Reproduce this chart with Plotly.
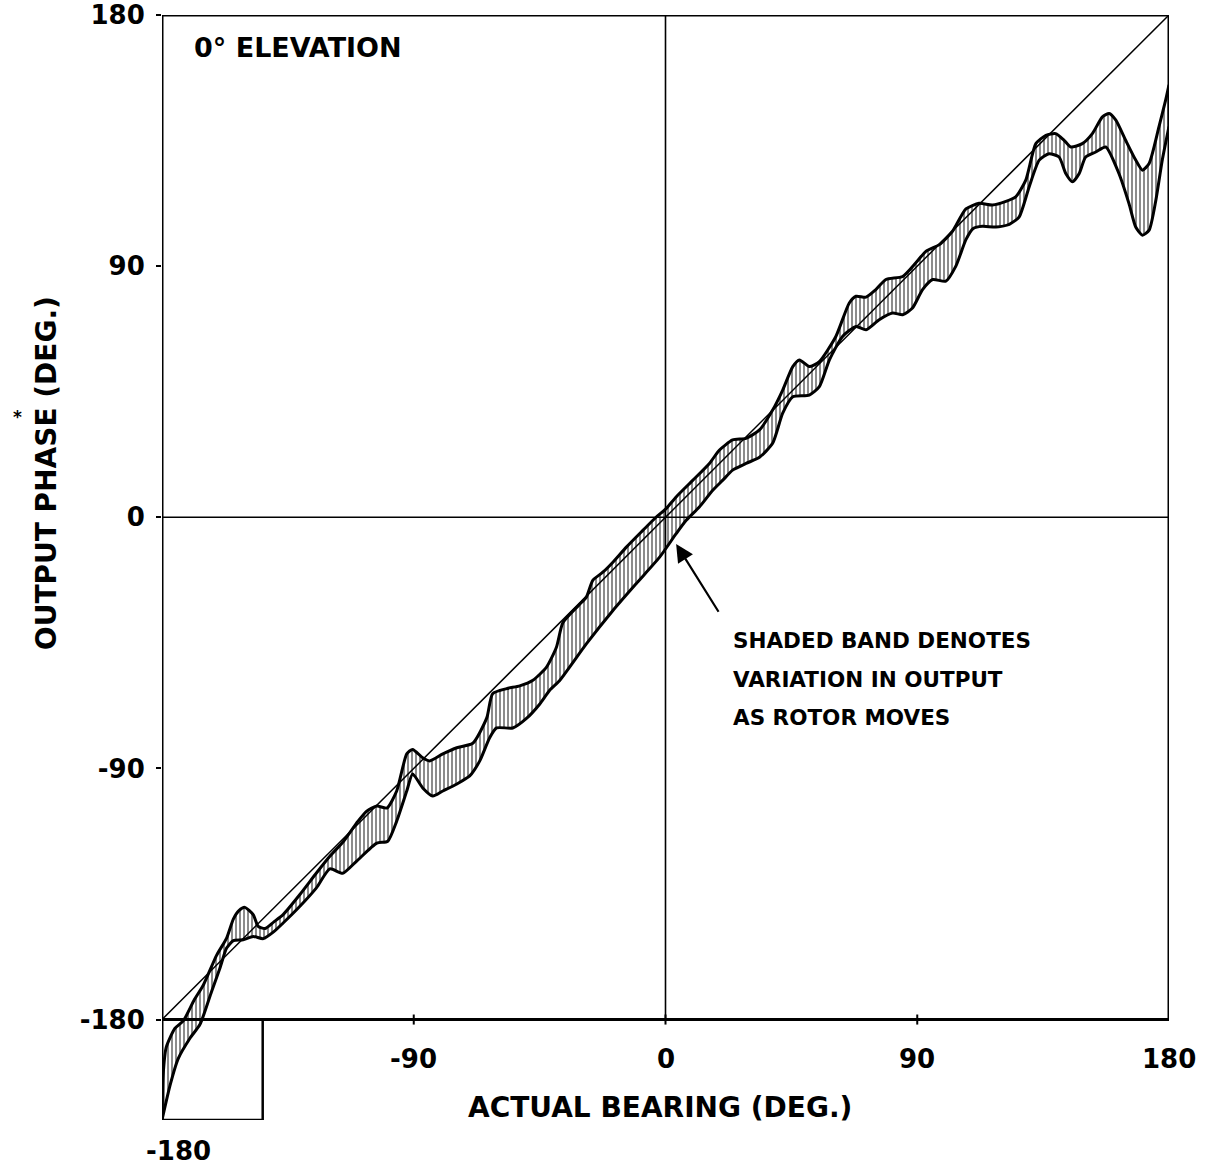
import plotly.graph_objects as go

# ---------------- data ----------------
upper_x = [-180, -179.6, -178.5, -175.4, -172.4, -168.5, -165.2, -160.5, -156.9, -154.5,
           -152.5, -150.4, -147.4, -145.6, -143.2, -140, -136.7, -130.7, -124.8, -120,
           -115, -110, -106.8, -103.2, -99.6, -96.1, -92.5, -90.4, -86.8, -84.3,
           -79.6, -74.6, -68.9, -63.9, -61.8, -56.8, -52.1, -47.4, -42.6, -39,
           -36.7, -31, -28.3, -26, -22.4, -18.8, -14, -8.1, -3.3, 0.2,
           3.8, 9.8, 15.7, 19.3, 24, 28.8, 33.6, 38.3, 41.9, 45.5,
           47.9, 51.4, 55, 60.9, 65.7, 68.1, 71.7, 75.2, 78.8, 84.8,
           89.5, 93.1, 97.9, 102.6, 107.4, 112.1, 116.9, 121.7, 125.2, 128.8,
           132.4, 136, 139.5, 142.5, 144.9, 149, 152.6, 156.2, 158.6, 161,
           164.5, 168.1, 170.5, 172.9, 176.4, 178.8, 180]
upper_y = [-216, -200, -190, -183.2, -180.5, -173, -167.6, -157, -150.8, -144,
           -141, -139.8, -142.4, -146.6, -147.4, -145, -142.4, -135.2, -127.5, -121.5,
           -116, -109, -105.3, -103.5, -104.2, -98.1, -84.8, -83.2, -86.2, -87.3,
           -84.8, -82.6, -81, -71.9, -63.2, -61.4, -60.4, -58.4, -53.8, -46.6,
           -37.8, -31.5, -28.6, -22.6, -19.7, -16.1, -10.7, -4.7, 0.1, 3.1,
           7.3, 13.3, 19.3, 24.1, 27.7, 28.3, 31.3, 38.4, 45.6, 54,
           56.4, 54, 55.8, 64.8, 76.8, 79.2, 78.9, 81.6, 85.2, 86.3,
           91.2, 95.3, 97.7, 102.5, 110.5, 112.5, 111.9, 113.2, 114.8, 120.8,
           133.9, 136.9, 137.5, 135.1, 132.7, 133.9, 137.5, 143.5, 144.7, 142.3,
           135.1, 128, 124.4, 126.8, 139.9, 149.5, 155]

lower_x = [-180, -177.1, -174.2, -170, -166.4, -162.3, -159.3, -156.9, -154.5, -151,
           -147.4, -143.8, -140, -136.7, -130.7, -124.8, -120, -115.4, -110.4, -103.2,
           -99.3, -96.1, -92.5, -90.4, -86.8, -83.2, -79.6, -74.6, -70, -66.4,
           -62.9, -60.4, -54.6, -49.6, -45, -41.4, -37.9, -28.3, -18.8, -10.5,
           -2.1, 3.8, 7.4, 12.1, 16.9, 20.5, 24, 28.8, 33.6, 38.3,
           41.9, 45.5, 51.4, 55, 58.6, 63.3, 68.1, 71.7, 76.4, 81.2,
           84.8, 88.3, 91.9, 95.5, 100.2, 103.8, 107.4, 110, 113.3, 118.1,
           122.9, 126.4, 130, 133.6, 137.1, 140.7, 143.1, 145.5, 147.9, 150.2,
           153.8, 157.4, 162.1, 165.7, 168.1, 170.5, 172.9, 175.3, 177.6, 180]
lower_y = [-216, -203.5, -194, -186.7, -181.7, -170, -161.6, -154.4, -151.7, -151.4,
           -150.2, -151, -148.5, -145.4, -139.4, -132.8, -126, -127.6, -123.2, -116.8,
           -116.1, -108.9, -98.1, -92, -97, -99.9, -98.1, -95.6, -92.7, -87.3,
           -79.1, -75.5, -75.5, -72, -67, -62, -58.6, -45.4, -33.4, -23.8,
           -14.3, -5.9, -1.1, 3.7, 9.7, 13.3, 16.9, 19.3, 21.5, 26.5,
           37.3, 43.2, 43.8, 46.8, 56.4, 64.8, 68.4, 67.2, 70.8, 73.2,
           72.6, 75, 81.6, 85.2, 84.6, 90, 99.5, 103.5, 104.3, 104,
           105, 107.6, 118.4, 128, 130.3, 129.1, 123.2, 120.2, 123.2, 129.1,
           130.9, 132.7, 123.2, 112.4, 104, 101.1, 102.9, 113.6, 128, 140]

ideal = [-180, 180]                      # ideal response y = x
tick_vals = [-180, -90, 0, 90, 180]
tick_text = ["-180", "-90", "0", "90", "180"]
note_lines = ["SHADED BAND DENOTES", "VARIATION IN OUTPUT", "AS ROTOR MOVES"]

FONT = "DejaVu Sans"

fig = go.Figure()

# lower boundary of band
fig.add_trace(go.Scatter(
    x=lower_x, y=lower_y, mode="lines",
    line=dict(color="black", width=3, shape="spline", smoothing=0.6),
    hoverinfo="skip", showlegend=False))
# upper boundary, filled down to the lower one with vertical hatching
fig.add_trace(go.Scatter(
    x=upper_x, y=upper_y, mode="lines", fill="tonexty",
    fillcolor="white",
    fillpattern=dict(shape="|", fgcolor="black", bgcolor="white", size=4, solidity=0.45),
    line=dict(color="black", width=3, shape="spline", smoothing=0.6),
    hoverinfo="skip", showlegend=False))
# ideal diagonal
fig.add_trace(go.Scatter(
    x=ideal, y=ideal, mode="lines",
    line=dict(color="black", width=1.5),
    hoverinfo="skip", showlegend=False))

shapes = []
def seg(x0, y0, x1, y1, w=3, layer="above"):
    shapes.append(dict(type="line", xref="x", yref="y", x0=x0, y0=y0, x1=x1, y1=y1,
                       line=dict(color="black", width=w), layer=layer))

# frame
seg(-180, 180, 180, 180)
seg(180, 180, 180, -180)
seg(-180, -180, 180, -180)
seg(-180, 180, -180, -216)
# small box below the axis at the lower-left
seg(-180, -216, -144, -216, w=2.5)
seg(-144, -216, -144, -180, w=2.5)
# zero lines
seg(0, -180, 0, 180, w=1.6)
seg(-180, 0, 180, 0, w=1.6)
# x tick marks
for v in tick_vals[1:4]:
    seg(v, -181.8, v, -178.2, w=2)

bold = lambda s: dict(family=FONT, size=s, color="black", weight="bold")

annotations = []
# x tick labels
for v, t in zip(tick_vals[1:], tick_text[1:]):
    annotations.append(dict(x=v, y=-194, xref="x", yref="y", text=t, showarrow=False,
                            xanchor="center", yanchor="middle", font=bold(26)))
annotations.append(dict(x=-174, y=-0.028, xref="x", yref="paper", text=tick_text[0],
                        showarrow=False, xanchor="center", yanchor="middle", font=bold(26)))
# axis titles
annotations.append(dict(x=-1.8, y=-211.5, xref="x", yref="y", text="ACTUAL BEARING (DEG.)",
                        showarrow=False, xanchor="center", yanchor="middle", font=bold(28)))
annotations.append(dict(x=-0.1152, y=0.5854, xref="paper", yref="paper",
                        text="OUTPUT PHASE (DEG.)", showarrow=False,
                        xanchor="center", yanchor="middle", textangle=-90, font=bold(28)))
annotations.append(dict(x=-0.1435, y=0.636, xref="paper", yref="paper", text="*",
                        showarrow=False, xanchor="center", yanchor="middle",
                        font=bold(17)))
# panel label
annotations.append(dict(x=-169.3, y=168.3, xref="x", yref="y", text="0° ELEVATION",
                        showarrow=False, xanchor="left", yanchor="middle", font=bold(27)))
# note
for t, yy in zip(note_lines, [-44.1, -58.2, -71.6]):
    annotations.append(dict(x=23.4, y=yy, xref="x", yref="y", text=t, showarrow=False,
                            xanchor="left", yanchor="middle", font=bold(21.5)))
# arrow
annotations.append(dict(x=3.8, y=-9.6, xref="x", yref="y", ax=19.3, ay=-34.4,
                        axref="x", ayref="y", text="", showarrow=True,
                        arrowhead=2, arrowsize=1.6, arrowwidth=2.2, arrowcolor="black",
                        standoff=0, startstandoff=0))

fig.update_layout(
    width=1205, height=1167,
    margin=dict(l=162, r=36, t=15, b=47, autoexpand=False),
    paper_bgcolor="white", plot_bgcolor="white",
    showlegend=False,
    shapes=shapes, annotations=annotations,
    xaxis=dict(range=[-180, 180], visible=False, fixedrange=True),
    yaxis=dict(range=[-216, 180], showgrid=False, zeroline=False, showline=False,
               automargin=False, ticklabeloverflow="allow",
               tickvals=tick_vals, ticktext=tick_text, ticks="outside", ticklen=5,
               tickwidth=2, tickcolor="black", ticklabelstandoff=6,
               tickfont=bold(26), fixedrange=True),
)

# remove the page's default body margin so the figure sits at the window's corner
fig.write_html("out.html",
               config={"displayModeBar": False},
               post_script="document.body.style.margin='0';document.body.style.overflow='hidden';")
